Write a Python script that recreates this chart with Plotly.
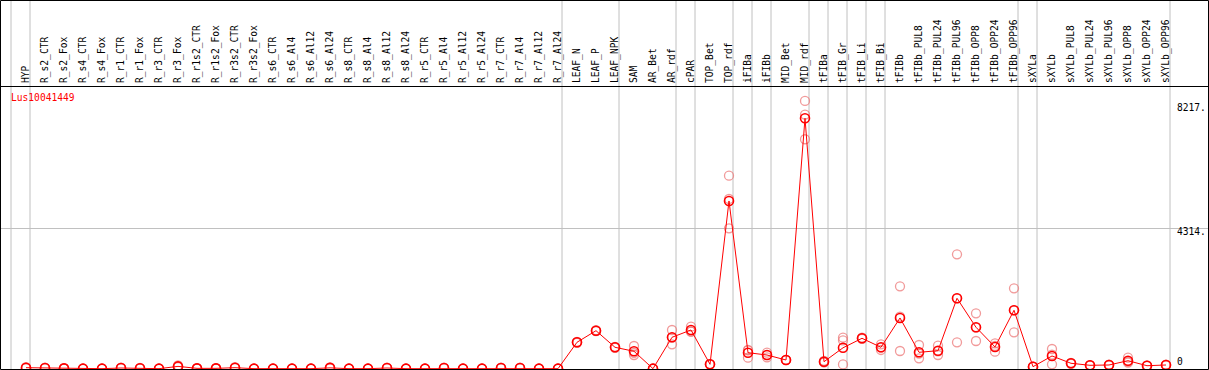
import plotly.graph_objects as go

categories = ["HYP", "R_s2_CTR", "R_s2_Fox", "R_s4_CTR", "R_s4_Fox", "R_r1_CTR", "R_r1_Fox",
              "R_r3_CTR", "R_r3_Fox", "R_r1s2_CTR", "R_r1s2_Fox", "R_r3s2_CTR", "R_r3s2_Fox",
              "R_s6_CTR", "R_s6_Al4", "R_s6_Al12", "R_s6_Al24", "R_s8_CTR", "R_s8_Al4",
              "R_s8_Al12", "R_s8_Al24", "R_r5_CTR", "R_r5_Al4", "R_r5_Al12", "R_r5_Al24",
              "R_r7_CTR", "R_r7_Al4", "R_r7_Al12", "R_r7_Al24", "LEAF_N", "LEAF_P", "LEAF_NPK",
              "SAM", "AR_Bet", "AR_rdf", "cPAR", "TOP_Bet", "TOP_rdf", "iFIBa", "iFIBb",
              "MID_Bet", "MID_rdf", "tFIBa", "tFIB_Gr", "tFIB_Li", "tFIB_Bi", "tFIBb",
              "tFIBb_PUL8", "tFIBb_PUL24", "tFIBb_PUL96", "tFIBb_OPP8", "tFIBb_OPP24",
              "tFIBb_OPP96", "sXYLa", "sXYLb", "sXYLb_PUL8", "sXYLb_PUL24", "sXYLb_PUL96",
              "sXYLb_OPP8", "sXYLb_OPP24", "sXYLb_OPP96"]

mean_values = [40, 30, 20, 10, 10, 30, 25, 10, 80, 20, 20, 40, 10,
               10, 10, 10, 35, 10, 10, 30, 10, 10, 30, 10, 10, 30, 30, 10, 10,
               819, 1174, 665, 543, 10, 972, 1196, 144, 5151, 500, 429,
               276, 7687, 224, 650, 941, 665, 1564,
               512, 561, 2168, 1279, 675, 1800,
               71, 399, 175, 113, 123, 254, 101, 123]

rep_a = [60, 40, 25, 10, 10, 40, 30, 10, 110, 25, 25, 55, 10,
         10, 10, 10, 50, 10, 10, 40, 10, 10, 40, 10, 10, 40, 40, 10, 10,
         830, 1190, 650, 705, 10, 1196, 1297, 150, 5927, 583, 500,
         280, 8217, 250, 960, 960, 757, 2536,
         736, 714, 3517, 1708, 788, 2474,
         75, 613, 190, 120, 130, 346, 110, 130]

rep_b = [30, 25, 15, 10, 10, 25, 20, 10, 60, 15, 15, 30, 10,
         10, 10, 10, 25, 10, 10, 25, 10, 10, 25, 10, 10, 25, 25, 10, 10,
         805, 1160, 680, 429, 10, 757, 1144, 140, 4314, 346, 359,
         270, 7043, 200, 880, 925, 583, 552,
         328, 429, 819, 858, 530, 1125,
         68, 144, 160, 105, 115, 193, 95, 115]

rep_c = [30, 25, 20, 10, 10, 25, 25, 10, 70, 20, 20, 35, 10,
         10, 10, 10, 30, 10, 10, 25, 10, 10, 25, 10, 10, 25, 25, 10, 10,
         820, 1172, 665, 495, 10, 963, 1147, 142, 5212, 571, 428,
         278, 7801, 222, 140, 938, 655, 1604,
         472, 540, 2168, 1271, 707, 1801,
         70, 440, 175, 114, 124, 223, 98, 124]

# first category index of each group (separator lines drawn just before them)
group_starts = [0, 1, 29, 32, 35, 36, 38, 39, 40, 42, 43, 44, 45, 46, 53, 54, 61]

y_label_values = [8217, 4314, 0]
y_label_texts = ["8217.", "4314.", "0"]
gene_id = "Lus10041449"

W, H = 1209, 370
ML, MR, MT, MB = 1, 1, 87, 1
plot_h = H - MT - MB
px_per_unit = 0.03262
y_top = plot_h / px_per_unit
step = 19.0
first_px = 26.0
x_lo = (ML - first_px) / step
x_hi = (W - MR - first_px) / step
top_paper = (H - MB - 0.5) / plot_h

idx = list(range(len(categories)))
FONT = "DejaVu Sans Mono"

fig = go.Figure()

rx, ry = [], []
for reps in (rep_a, rep_b, rep_c):
    rx.extend(idx)
    ry.extend(reps)
fig.add_trace(go.Scatter(
    x=rx, y=ry, mode="markers",
    marker=dict(symbol="circle-open", size=9, color="rgba(236,120,120,0.75)",
                line=dict(width=1.3)),
    hoverinfo="skip", showlegend=False))

fig.add_trace(go.Scatter(
    x=idx, y=mean_values, mode="lines+markers",
    line=dict(color="#ff0000", width=1),
    marker=dict(symbol="circle-open", size=9, color="#ff0000", line=dict(width=1.6)),
    showlegend=False))

shapes = []
for g in group_starts:
    shapes.append(dict(type="line", xref="x", yref="paper",
                       x0=g - 15.0 / step, x1=g - 15.0 / step, y0=0, y1=top_paper + 0.01,
                       line=dict(color="#c0c0c0", width=1), layer="below"))
# outer frame and header separator
shapes.append(dict(type="rect", xref="paper", yref="paper",
                   x0=-0.5 / (W - ML - MR), x1=1 + 0.5 / (W - ML - MR),
                   y0=-0.5 / plot_h, y1=top_paper,
                   line=dict(color="black", width=1), fillcolor="rgba(0,0,0,0)"))
shapes.append(dict(type="line", xref="paper", yref="paper",
                   x0=0, x1=1, y0=1 + 0.5 / plot_h, y1=1 + 0.5 / plot_h,
                   line=dict(color="black", width=1)))

annotations = [dict(text=gene_id, xref="paper", yref="paper",
                    x=(9 - ML) / (W - ML - MR), y=(H - MB - 97) / plot_h,
                    xanchor="left", yanchor="middle", showarrow=False,
                    font=dict(family=FONT, size=9.6, color="#ff0000"))]
shifts = [-6.7, -3.7, 7.3]
for v, t, s in zip(y_label_values, y_label_texts, shifts):
    annotations.append(dict(text=t, xref="paper", yref="y",
                            x=(1175 - ML) / (W - ML - MR), y=v, yshift=s,
                            xanchor="left", yanchor="middle", showarrow=False,
                            font=dict(family=FONT, size=9.6, color="black")))

fig.update_layout(
    width=W, height=H, template="none",
    margin=dict(l=ML, r=MR, t=MT, b=MB, pad=0),
    paper_bgcolor="white", plot_bgcolor="white",
    shapes=shapes, annotations=annotations,
    hovermode=False,
    xaxis=dict(range=[x_lo, x_hi], side="top", tickmode="array", tickvals=idx,
               ticktext=categories, tickangle=-90, showgrid=False, zeroline=False,
               ticks="", showline=False, automargin=False, ticklabelstandoff=3,
               tickfont=dict(family=FONT, size=9.6, color="black")),
    yaxis=dict(range=[0, y_top], tickmode="array", tickvals=[4314], showticklabels=False,
               showgrid=True, gridcolor="#c0c0c0", gridwidth=1, zeroline=False,
               ticks="", showline=False, automargin=False),
)

fig.write_html("out.html", config={"displayModeBar": False, "staticPlot": True},
               post_script="document.body.style.margin='0px';document.body.style.overflow='hidden';")
